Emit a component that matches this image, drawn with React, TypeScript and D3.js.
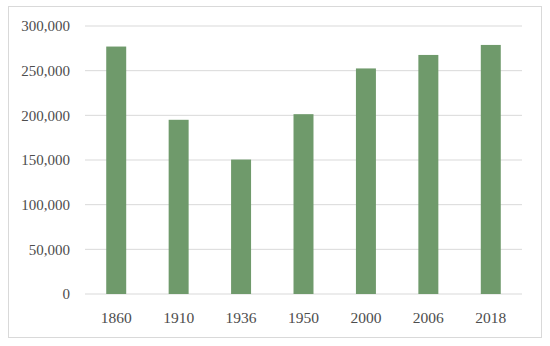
import React from 'react';
import * as d3 from 'd3';

const years = ['1860', '1910', '1936', '1950', '2000', '2006', '2018'];
const population = [277000, 195000, 150500, 201300, 252500, 267600, 278800];
const yTicks = [0, 50000, 100000, 150000, 200000, 250000, 300000];

const width = 550;
const height = 346;
const margin = { top: 26, right: 28, bottom: 52, left: 85 };

export default function App() {
  const x = d3.scaleBand()
    .domain(years)
    .range([margin.left, width - margin.right])
    .paddingInner(0.68)
    .paddingOuter(0.34);

  const y = d3.scaleLinear()
    .domain([0, 300000])
    .range([height - margin.bottom, margin.top]);

  const fmt = d3.format(',');
  const font = '"Liberation Serif", "Times New Roman", serif';

  return (
    <svg width={width} height={height}
      style={{ position: 'absolute', left: 0, top: 0, background: '#fff' }}>
      <rect x={8.5} y={6.5} width={533} height={331} fill="#fff" stroke="#d9d9d9" />

      {/* gridlines + y labels */}
      {yTicks.map(t => (
        <g key={t}>
          <line x1={margin.left} x2={width - margin.right} y1={y(t)} y2={y(t)}
            stroke="#d9d9d9" strokeWidth={1} />
          <text x={70} y={y(t)} dy="0.35em" textAnchor="end" fontFamily={font}
            fontSize={15} fill="#4d4d4d">{fmt(t)}</text>
        </g>
      ))}

      {/* bars */}
      {years.map((yr, i) => (
        <rect key={yr} x={x(yr)} y={y(population[i])} width={x.bandwidth()}
          height={y(0) - y(population[i])} fill="#6f9a6b" />
      ))}

      {/* x labels */}
      {years.map(yr => (
        <text key={yr} x={(x(yr) ?? 0) + x.bandwidth() / 2} y={323} textAnchor="middle"
          fontFamily={font} fontSize={15.5} fill="#4d4d4d">{yr}</text>
      ))}
    </svg>
  );
}
